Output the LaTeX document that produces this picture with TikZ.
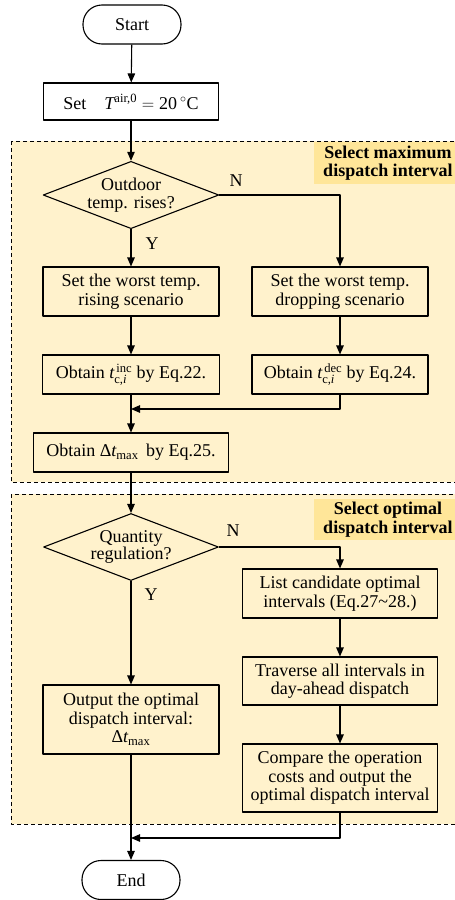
\documentclass[tikz,border=0pt]{standalone}
\usepackage{amsmath}
\usepackage{fontspec}
\setmainfont{Liberation Serif}
\usetikzlibrary{shapes.geometric,arrows.meta}
\definecolor{regfill}{HTML}{FFF2CC}
\definecolor{tagfill}{HTML}{FFE699}

\begin{document}
\begin{tikzpicture}[x=1pt, y=-1pt, line join=round, line width=1.1pt,
		font=\fontsize{18}{18.5}\selectfont,
		>={Triangle[length=9pt,width=7.5pt]},
		term/.style={draw, rounded corners=19pt, minimum width=98pt, minimum height=39pt, inner sep=0pt},
		proc/.style={draw, align=center, inner sep=0pt},
		decision/.style={draw, diamond, shape aspect=2.61, minimum width=175pt, minimum height=67pt,
			inner sep=0pt, align=center, font=\fontsize{18}{17.5}\selectfont},
		region/.style={draw, line width=0.9pt, dash pattern=on 4pt off 3pt, fill=regfill},
		tag/.style={fill=tagfill, align=center, inner sep=0pt, font=\fontsize{18}{18.5}\selectfont\bfseries}]
		\useasboundingbox (0,0) rectangle (455,900);
		\clip (0,0) rectangle (455,900);
		% background regions
		\draw[region] (11,141) rectangle (462,482);
		\draw[region] (11,494) rectangle (462,824);
		\node[tag, minimum width=148pt, minimum height=42pt] (tag1) at (388,163) {Select maximum\\dispatch interval};
		\node[tag, minimum width=148pt, minimum height=41pt] (tag2) at (388,519.5) {Select optimal\\dispatch interval};
		% start
		\node[term] (start) at (132,24.5) {Start};
		\node[proc, minimum width=175pt, minimum height=37pt] (set) at (131,101.5)
			{Set\quad $\textit{T}^{\text{air,0}} = \text{20}\,^{\circ}\text{C}$};
		% maximum interval
		\node[decision] (q1) at (131,195) {Outdoor\\temp. rises?};
		\node[proc, minimum width=176pt, minimum height=49pt] (rise) at (131,291.5) {Set the worst temp.\\rising scenario};
		\node[proc, minimum width=176pt, minimum height=49pt] (drop) at (340,291.5) {Set the worst temp.\\dropping scenario};
		\node[proc, minimum width=177pt, minimum height=39pt] (inc) at (131,374.5)
			{Obtain $\textit{t}^{\,\text{inc}}_{\text{c,}\textit{i}}$ by Eq.22.};
		\node[proc, minimum width=176pt, minimum height=39pt] (dec) at (340,374.5)
			{Obtain $\textit{t}^{\,\text{dec}}_{\text{c,}\textit{i}}$ by Eq.24.};
		\coordinate (j1) at (131,409);
		\node[proc, minimum width=195pt, minimum height=39pt] (dmax) at (131,452.5)
			{Obtain $\text{Δ}\textit{t}_{\text{max}}$\, by Eq.25.};
		% optimal interval
		\node[decision] (q2) at (131,547) {Quantity\\regulation?};
		\node[proc, minimum width=195pt, minimum height=49pt] (list) at (340,593.5) {List candidate optimal\\intervals (Eq.27\textasciitilde 28.)};
		\node[proc, minimum width=195pt, minimum height=48pt] (trav) at (340,681) {Traverse all intervals in\\day-ahead dispatch};
		\node[proc, minimum width=195pt, minimum height=68pt] (comp) at (340,778) {Compare the operation\\costs and output the\\optimal dispatch interval};
		\node[proc, minimum width=176pt, minimum height=69pt] (out) at (131,719.5) {Output the optimal\\dispatch interval:\\$\text{Δ}\textit{t}_{\text{max}}$};
		\coordinate (j2) at (131,838);
		\node[term] (end) at (131,880) {End};
		% connectors
		\draw[->] (start) -- (set);
		\draw[->] (set) -- (q1);
		\draw[->] (q1) -- (rise);
		\draw[->] (q1.east) -| (drop.north);
		\node (y1) at (152,244) {Y};
		\node (n1) at (236,181) {N};
		\draw[->] (rise) -- (inc);
		\draw[->] (drop) -- (dec);
		\draw[->] (inc) -- (dmax);
		\draw[->] (dec.south) |- (j1);
		\draw[->] (dmax) -- (q2);
		\draw[->] (q2.east) -| (list.north);
		\node (n2) at (233,531) {N};
		\draw[->] (q2) -- (out);
		\node (y2) at (151,595) {Y};
		\draw[->] (list) -- (trav);
		\draw[->] (trav) -- (comp);
		\draw[->] (out) -- (end);
		\draw[->] (comp.south) |- (j2);
	\end{tikzpicture}
\end{document}
